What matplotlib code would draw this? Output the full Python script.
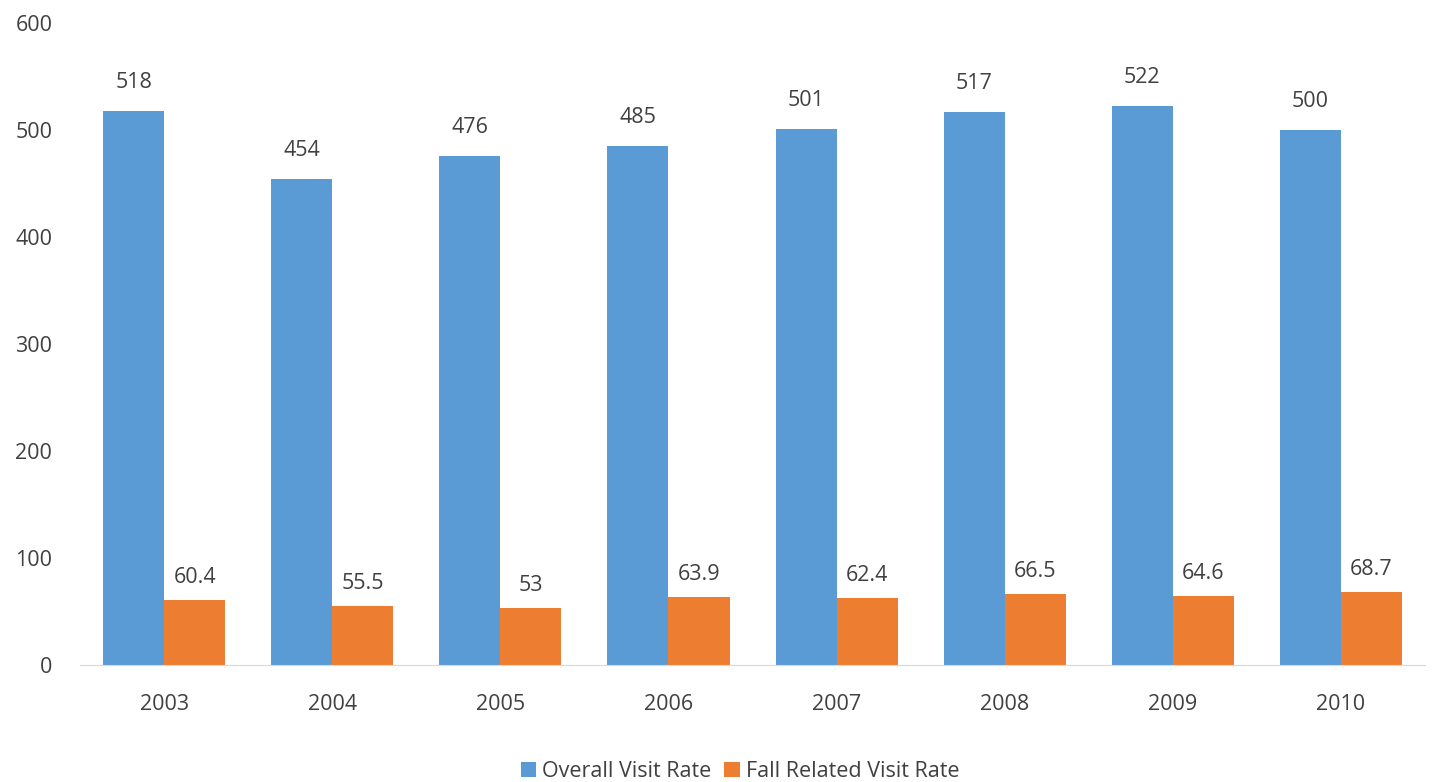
import numpy as np
from matplotlib import pyplot as plt

years = ['2003', '2004', '2005', '2006', '2007', '2008', '2009', '2010']
overall = [518, 454, 476, 485, 501, 517, 522, 500]
fall = [60.4, 55.5, 53, 63.9, 62.4, 66.5, 64.6, 68.7]
fall_labels = ['60.4', '55.5', '53', '63.9', '62.4', '66.5', '64.6', '68.7']

plt.rcParams['font.family'] = ['Open Sans', 'DejaVu Sans']
txt = '#404040'

fig = plt.figure(figsize=(14.4, 7.82), dpi=100)
ax = fig.add_axes([0.0556, 0.1496, 0.934, 0.821])

x = np.arange(len(years))
w = 0.363
b1 = ax.bar(x - w/2, overall, w, color='#5B9BD5', label='Overall Visit Rate')
b2 = ax.bar(x + w/2, fall, w, color='#ED7D31', label='Fall Related Visit Rate')

for i in range(len(years)):
    ax.annotate(str(overall[i]), (x[i] - w/2, overall[i]), xytext=(0, 18),
                textcoords='offset pixels', ha='center', va='bottom', fontsize=15.5, color=txt)
    ax.annotate(fall_labels[i], (x[i] + w/2, fall[i]), xytext=(0, 12),
                textcoords='offset pixels', ha='center', va='bottom', fontsize=15.5, color=txt)

ax.set_xlim(-0.5, len(years) - 0.5)
ax.set_ylim(0, 600)
ax.set_yticks(range(0, 601, 100))
ax.set_xticks(x)
ax.set_xticklabels(years)
ax.tick_params(length=0, labelsize=15.5, colors=txt)
ax.tick_params(axis='x', pad=21)
ax.tick_params(axis='y', pad=20)
for s in ['top', 'right', 'left']:
    ax.spines[s].set_visible(False)
ax.spines['bottom'].set_color('#D9D9D9')

fig.legend(loc='center', bbox_to_anchor=(0.514, 0.013), ncol=2, frameon=False,
           fontsize=15.5, handlelength=0.7, handleheight=0.7, handletextpad=0.3,
           columnspacing=0.6, labelcolor=txt)

fig.savefig('out.png', dpi=100)
